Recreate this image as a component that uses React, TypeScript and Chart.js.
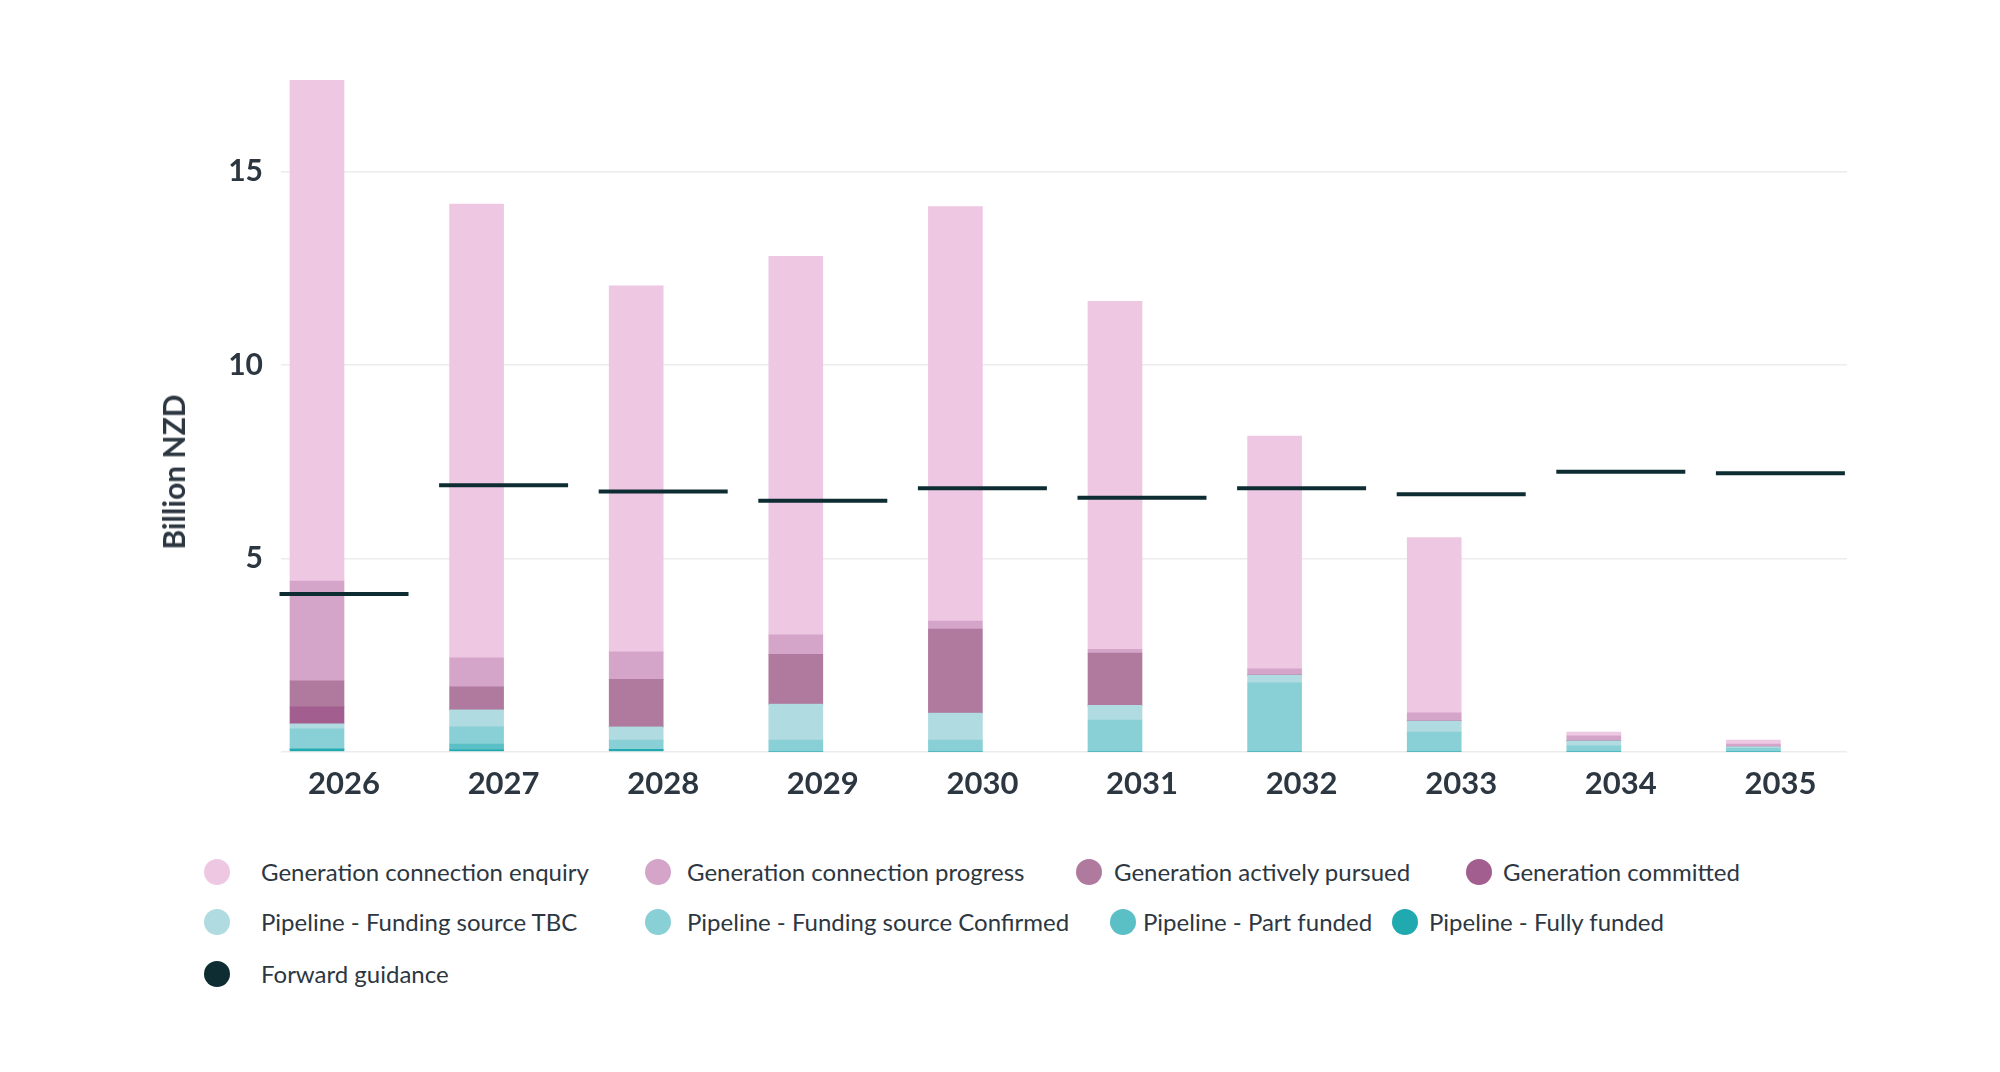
import React, { useEffect, useRef } from 'react';
import { Chart, registerables } from 'chart.js';

Chart.register(...registerables);

// ---------- data ----------
const years = ['2026', '2027', '2028', '2029', '2030', '2031', '2032', '2033', '2034', '2035'];

const genEnquiry = [12.95, 11.73, 9.47, 9.79, 10.72, 9.0, 6.02, 4.53, 0.1, 0.1];
const genProgress = [2.58, 0.75, 0.71, 0.5, 0.21, 0.1, 0.16, 0.21, 0.13, 0.07];
const genActively = [0.67, 0.6, 1.23, 1.29, 2.17, 1.35, 0, 0, 0, 0];
const genCommitted = [0.44, 0, 0, 0, 0, 0, 0, 0, 0, 0];
const pipeTBC = [0.13, 0.44, 0.34, 0.93, 0.7, 0.38, 0.2, 0.285, 0.13, 0.04];
const pipeConfirmed = [0.5, 0.44, 0.24, 0.3, 0.3, 0.82, 1.78, 0.51, 0.15, 0.09];
const pipePart = [0.03, 0.15, 0, 0, 0, 0, 0, 0, 0, 0];
const pipeFully = [0.06, 0.05, 0.06, 0, 0, 0, 0, 0, 0, 0];
const forwardGuidance = [4.08, 6.89, 6.73, 6.49, 6.81, 6.57, 6.81, 6.66, 7.24, 7.2];
const spacerValues = [0, 0, 0, 0, 0, 0, 0, 0, 0, 0];

const yTickValues = [0, 5, 10, 15];

// ---------- styles ----------
const FONT = 'Lato, "Open Sans", sans-serif';
const TEXT = '#2d3741';

const barSeries = [
  { label: 'Pipeline - Fully funded', data: pipeFully, color: '#21a9b0' },
  { label: 'Pipeline - Part funded', data: pipePart, color: '#5bbfc6' },
  { label: 'Pipeline - Funding source Confirmed', data: pipeConfirmed, color: '#89d0d6' },
  { label: 'Pipeline - Funding source TBC', data: pipeTBC, color: '#b0dbe0' },
  { label: 'Generation committed', data: genCommitted, color: '#a25e8e' },
  { label: 'Generation actively pursued', data: genActively, color: '#b07a9f' },
  { label: 'Generation connection progress', data: genProgress, color: '#d4a5c9' },
  { label: 'Generation connection enquiry', data: genEnquiry, color: '#eec7e3' },
];
const guidanceColor = '#0d2d32';

// legend layout (pixel positions of each legend entry)
const legendLayout: { label: string; cx: number; tx: number; cy: number }[] = [
  { label: 'Generation connection enquiry', cx: 217, tx: 261, cy: 872 },
  { label: 'Generation connection progress', cx: 658, tx: 687, cy: 872 },
  { label: 'Generation actively pursued', cx: 1089, tx: 1114, cy: 872 },
  { label: 'Generation committed', cx: 1479, tx: 1503, cy: 872 },
  { label: 'Pipeline - Funding source TBC', cx: 217, tx: 261, cy: 922 },
  { label: 'Pipeline - Funding source Confirmed', cx: 658, tx: 687, cy: 922 },
  { label: 'Pipeline - Part funded', cx: 1123, tx: 1143, cy: 922 },
  { label: 'Pipeline - Fully funded', cx: 1405, tx: 1429, cy: 922 },
  { label: 'Forward guidance', cx: 217, tx: 261, cy: 974 },
];

const colorFor = (label: string) => {
  if (label === 'Forward guidance') return guidanceColor;
  const s = barSeries.find((b) => b.label === label);
  return s ? s.color : '#000';
};

export default function App() {
  const canvasRef = useRef<HTMLCanvasElement | null>(null);

  useEffect(() => {
    if (!canvasRef.current) return;
    const toXY = (arr: number[]) => arr.map((y, i) => ({ x: i, y }));

    const datasets: any[] = [
      {
        type: 'line',
        label: 'Forward guidance',
        data: toXY(forwardGuidance),
        showLine: false,
        pointStyle: 'line',
        pointRadius: 64.5,
        pointHoverRadius: 64.5,
        pointBorderWidth: 4,
        pointBorderColor: guidanceColor,
        pointBackgroundColor: guidanceColor,
        borderColor: guidanceColor,
        backgroundColor: guidanceColor,
        clip: false,
        order: -1,
        stack: 'guide',
      },
      ...barSeries.map((s) => ({
        type: 'bar',
        label: s.label,
        data: toXY(s.data),
        backgroundColor: s.color,
        borderWidth: 0,
        stack: 'main',
        barThickness: 54,
      })),
      {
        type: 'bar',
        label: 'spacer',
        data: toXY(spacerValues),
        backgroundColor: 'rgba(0,0,0,0)',
        borderWidth: 0,
        stack: 'spacer',
        barThickness: 54,
      },
    ];

    const chart = new Chart(canvasRef.current, {
      type: 'bar',
      data: { datasets },
      options: {
        animation: false,
        responsive: true,
        maintainAspectRatio: false,
        events: [],
        layout: { padding: { left: 0, right: 153, top: 75, bottom: 0 } },
        plugins: {
          legend: { display: false },
          tooltip: { enabled: false },
          title: { display: false },
        },
        scales: {
          x: {
            type: 'linear',
            offset: false,
            min: -0.3947,
            max: 9.4173,
            grid: { display: false, offset: false },
            border: { display: false },
            afterBuildTicks: (axis: any) => {
              axis.ticks = years.map((_, i) => ({ value: i }));
            },
            afterFit: (scale: any) => {
              scale.height = 78.3;
            },
            ticks: {
              autoSkip: false,
              maxRotation: 0,
              padding: 6,
              color: TEXT,
              font: { family: FONT, size: 31, weight: 'bold' },
              callback: (v: any) => years[v] ?? '',
            },
          },
          y: {
            type: 'linear',
            stacked: true,
            min: 0,
            max: 17.5,
            grid: { color: '#ececec', lineWidth: 1.5, drawTicks: false },
            border: { display: false },
            afterBuildTicks: (axis: any) => {
              axis.ticks = yTickValues.map((v) => ({ value: v }));
            },
            afterFit: (scale: any) => {
              scale.width = 281;
            },
            ticks: {
              padding: 18,
              color: TEXT,
              font: { family: FONT, size: 30, weight: 'bold' },
              callback: (v: any) => (v === 0 ? '' : String(v)),
            },
          },
        },
      } as any,
    });
    return () => chart.destroy();
  }, []);

  return (
    <div
      style={{
        position: 'absolute',
        left: 0,
        top: 0,
        width: 2000,
        height: 1072,
        background: '#fff',
        fontFamily: FONT,
        overflow: 'hidden',
      }}
    >
      <div style={{ position: 'absolute', left: 0, top: 0, width: 2000, height: 830 }}>
        <canvas ref={canvasRef} />
      </div>
      <div
        style={{
          position: 'absolute',
          left: 172.5,
          top: 471.7,
          transform: 'translate(-50%, -50%) rotate(-90deg)',
          whiteSpace: 'nowrap',
          fontSize: 30,
          fontWeight: 700,
          color: TEXT,
          lineHeight: 1,
        }}
      >
        Billion NZD
      </div>
      {legendLayout.map((item) => (
        <React.Fragment key={item.label}>
          <div
            style={{
              position: 'absolute',
              left: item.cx - 13,
              top: item.cy - 13,
              width: 26,
              height: 26,
              borderRadius: '50%',
              background: colorFor(item.label),
            }}
          />
          <div
            style={{
              position: 'absolute',
              left: item.tx,
              top: item.cy,
              transform: 'translateY(-50%)',
              whiteSpace: 'nowrap',
              fontSize: 24,
              lineHeight: 1.2,
              color: TEXT,
            }}
          >
            {item.label}
          </div>
        </React.Fragment>
      ))}
    </div>
  );
}
